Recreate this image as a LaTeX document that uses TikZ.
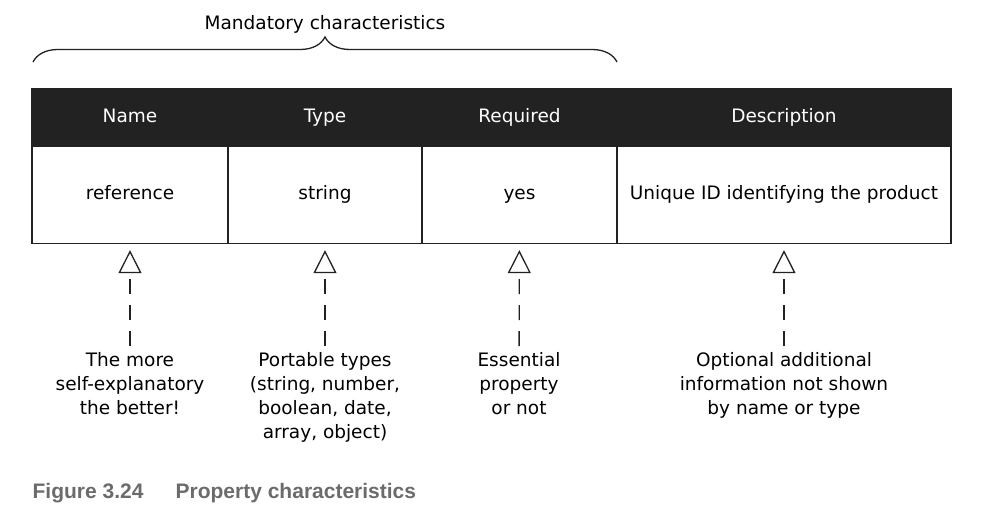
\documentclass[tikz,border=0pt]{standalone}
\usepackage{fontspec}
\setmainfont{DejaVu Sans}
\newfontfamily\capfont{Liberation Sans}
\usetikzlibrary{arrows.meta,positioning,decorations.pathreplacing}
\definecolor{inkblack}{HTML}{222222}
\definecolor{capgray}{HTML}{6B6B6B}

\begin{document}
\begin{tikzpicture}[x=1pt,y=-1pt,>={Triangle[open,length=23pt,width=23pt]},
                    line width=1.3pt,font=\fontsize{18.5}{24}\selectfont]
  \tikzstyle{head}=[rectangle,draw=inkblack,fill=inkblack,text=white,minimum height=58pt,
                    inner sep=0pt,text height=13pt,text depth=4pt]
  \tikzstyle{cell}=[rectangle,draw=inkblack,fill=white,minimum height=97pt,
                    inner sep=0pt,text height=13pt,text depth=4pt]
  \tikzstyle{note}=[align=center,anchor=north,inner sep=0pt]
  \tikzstyle{link}=[->,draw=inkblack,dash pattern=on 15pt off 11pt,shorten >=6pt,shorten <=6pt]

  \useasboundingbox (0,0) rectangle (991,511);

  % header row
  \node[head,minimum width=196pt] (hN) at (130,117.5) {Name};
  \node[head,minimum width=194pt] (hT) at (325,117.5) {Type};
  \node[head,minimum width=195pt] (hR) at (519.5,117.5) {Required};
  \node[head,minimum width=334pt] (hD) at (784,117.5) {Description};

  % values
  \node[cell,minimum width=196pt] (cN) at (130,195) {reference};
  \node[cell,minimum width=194pt] (cT) at (325,195) {string};
  \node[cell,minimum width=195pt] (cR) at (519.5,195) {yes};
  \node[cell,minimum width=334pt] (cD) at (784,195) {Unique ID identifying the product};

  % brace over the first three columns
  \node (mand) at (325,30) [anchor=base] {Mandatory characteristics};
  \coordinate (bl) at (33,62);
  \coordinate (br) at (617,62);
  \draw[inkblack,decorate,decoration={brace,amplitude=25pt}] (bl) -- (br);

  % remarks
  \node[note] (nN) at (130,352) {The more\\self-explanatory\\the better!};
  \node[note] (nT) at (325,352) {Portable types\\(string, number,\\boolean, date,\\array, object)};
  \node[note] (nR) at (519,352) {Essential\\property\\or not};
  \node[note] (nD) at (784,352) {Optional additional\\information not shown\\by name or type};

  \path (nN) edge[link] (cN)
        (nT) edge[link] (cT)
        (nR) edge[link] (cR)
        (nD) edge[link] (cD);

  % caption
  \node[anchor=base west,inner sep=0pt,text=capgray,font=\capfont\bfseries\fontsize{21}{24}\selectfont] (fig) at (32,498) {Figure 3.24};
  \node[anchor=base west,inner sep=0pt,text=capgray,font=\capfont\bfseries\fontsize{21}{24}\selectfont] (cap) at (175,498) {Property characteristics};
\end{tikzpicture}
\end{document}
